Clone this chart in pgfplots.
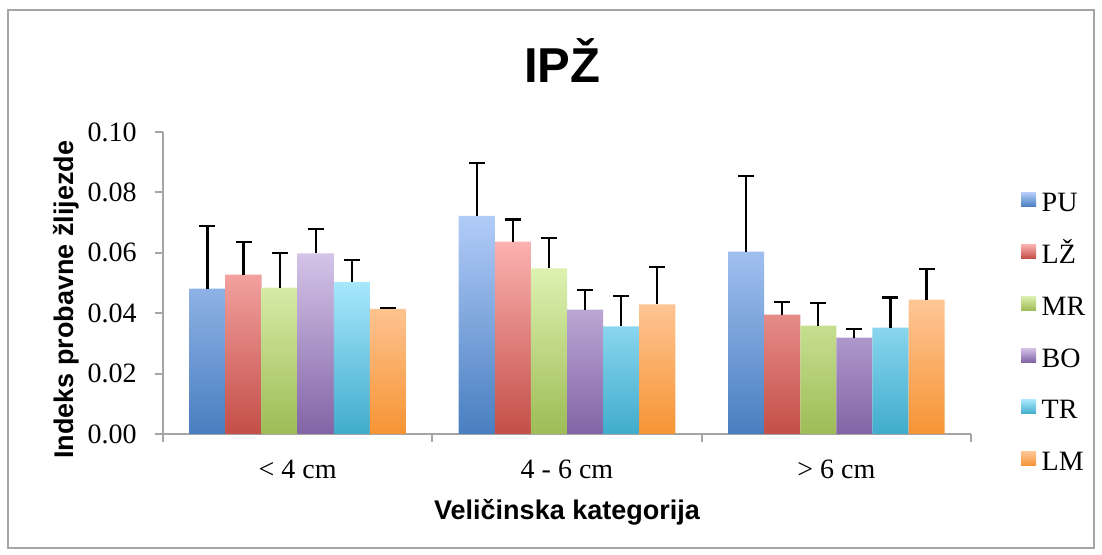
\documentclass[border=0pt]{standalone}
\usepackage{fontspec}
\setmainfont{Liberation Serif}
\setsansfont{Liberation Sans}
\usepackage{pgfplots}
\pgfplotsset{compat=1.18}
\usepackage{pgfplotstable}

\definecolor{puT}{RGB}{178,204,248}\definecolor{puB}{RGB}{72,126,192}
\definecolor{lzT}{RGB}{251,178,176}\definecolor{lzB}{RGB}{196,78,72}
\definecolor{mrT}{RGB}{220,241,176}\definecolor{mrB}{RGB}{158,188,86}
\definecolor{boT}{RGB}{212,196,232}\definecolor{boB}{RGB}{130,100,166}
\definecolor{trT}{RGB}{168,231,252}\definecolor{trB}{RGB}{64,172,204}
\definecolor{lmT}{RGB}{254,198,150}\definecolor{lmB}{RGB}{246,148,52}
\definecolor{axgray}{RGB}{165,165,165}

\pgfplotstableread{
x y e
0 0.0481 0.0209
1 0.0722 0.0176
2 0.0604 0.0250
}\tPU
\pgfplotstableread{
x y e
0 0.0528 0.0107
1 0.0637 0.0073
2 0.0395 0.0041
}\tLZ
\pgfplotstableread{
x y e
0 0.0485 0.0113
1 0.0548 0.0100
2 0.0359 0.0075
}\tMR
\pgfplotstableread{
x y e
0 0.0598 0.0082
1 0.0412 0.0066
2 0.0319 0.0028
}\tBO
\pgfplotstableread{
x y e
0 0.0504 0.0073
1 0.0356 0.0101
2 0.0352 0.0100
}\tTR
\pgfplotstableread{
x y e
0 0.0414 0.0002
1 0.0429 0.0124
2 0.0445 0.0102
}\tLM

\begin{document}
\begin{tikzpicture}
\useasboundingbox (-81.5pt,-60.5pt) rectangle (469.5pt,217pt);
\draw[axgray, line width=0.75pt] (-77.5pt,-57pt) rectangle (465.5pt,212pt);
\begin{axis}[
  at={(0pt,0pt)}, anchor=south west,
  scale only axis, width=404pt, height=151pt,
  xmin=-0.5, xmax=2.5, ymin=0, ymax=0.1,
  axis x line*=bottom, axis y line*=left,
  axis line style={-, axgray, line width=1pt},
  every tick/.style={axgray, line width=1pt},
  tick align=outside,
  major tick length=4pt, minor tick length=4pt,
  xtick={0,1,2}, xticklabels={< 4 cm, 4 - 6 cm, > 6 cm},
  minor xtick={-0.5,0.5,1.5,2.5},
  major x tick style={draw=none},
  ytick={0,0.02,0.04,0.06,0.08,0.1},
  /pgf/number format/fixed, /pgf/number format/fixed zerofill, /pgf/number format/precision=2,
  /pgf/number format/assume math mode=true,
  ticklabel style={font=\fontsize{14}{16}\selectfont},
  yticklabel style={anchor=east, inner sep=0pt, xshift=-9pt},
  xticklabel style={anchor=center, inner sep=0pt, yshift=-13.5pt},
  ybar=0pt, bar width=0.134,
  title={IPŽ},
  title style={font=\sffamily\bfseries\fontsize{24.5}{28}\selectfont, at={(axis description cs:0.494,1)}, anchor=center, yshift=29.5pt},
  xlabel={Veličinska kategorija},
  xlabel style={font=\sffamily\bfseries\fontsize{13.5}{16}\selectfont, at={(axis description cs:0.5,0)}, anchor=center, yshift=-39pt},
  ylabel={Indeks probavne žlijezde},
  ylabel style={font=\sffamily\bfseries\fontsize{13.5}{16}\selectfont, at={(axis description cs:0,0.444)}, anchor=center, yshift=48.5pt},
  legend style={at={(axis description cs:1.0619,0.8026)}, anchor=north west, draw=none, fill=none,
    inner sep=0pt, outer sep=0pt, row sep=12.9pt,
    nodes={inner sep=0pt, text height=10pt, text depth=3pt},
    font=\fontsize{14}{16}\selectfont},
  legend cell align=left,
  legend image code/.code={
    \path[#1, draw=none] (0pt,-1pt) rectangle (7.5pt,6pt);
    \path (0pt,0pt) -- (10.35pt,0pt);
  },
  error bars/y dir=plus, error bars/y explicit,
  error bars/error bar style={black, line width=1.1pt},
  error bars/error mark options={black, line width=1.1pt, mark size=4pt, rotate=90},
]
\addplot[draw=none, top color=puT, bottom color=puB] table[x=x, y=y, y error=e] {\tPU};
\addplot[draw=none, top color=lzT, bottom color=lzB] table[x=x, y=y, y error=e] {\tLZ};
\addplot[draw=none, top color=mrT, bottom color=mrB] table[x=x, y=y, y error=e] {\tMR};
\addplot[draw=none, top color=boT, bottom color=boB] table[x=x, y=y, y error=e] {\tBO};
\addplot[draw=none, top color=trT, bottom color=trB] table[x=x, y=y, y error=e] {\tTR};
\addplot[draw=none, top color=lmT, bottom color=lmB] table[x=x, y=y, y error=e] {\tLM};
\legend{PU, LŽ, MR, BO, TR, LM}
\end{axis}
\end{tikzpicture}
\end{document}
